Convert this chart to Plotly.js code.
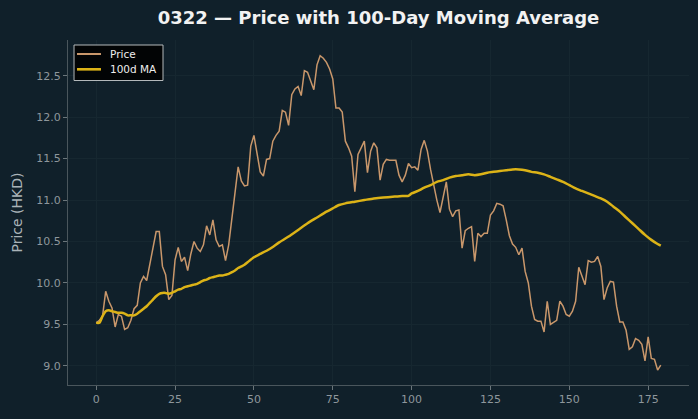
<!DOCTYPE html>
<html>
<head>
<meta charset="utf-8">
<script src="https://cdn.plot.ly/plotly-3.0.1.min.js"></script>
<style>
html,body{margin:0;padding:0;background:#10202a;}
#chart{width:698px;height:419px;}
</style>
</head>
<body>
<div id="chart"></div>
<script>
// Daily closing price (index = trading day)
const priceValues = [
  9.52, 9.55, 9.6, 9.9, 9.78, 9.7, 9.47, 9.62, 9.6, 9.44,
  9.46, 9.55, 9.69, 9.73, 10.0, 10.08, 10.03, 10.24, 10.44, 10.62,
  10.62, 10.2, 10.1, 9.8, 9.85, 10.28, 10.43, 10.26, 10.31, 10.15,
  10.35, 10.5, 10.42, 10.38, 10.46, 10.69, 10.58, 10.76, 10.52, 10.44,
  10.46, 10.27, 10.46, 10.76, 11.08, 11.4, 11.23, 11.17, 11.18, 11.65,
  11.78, 11.55, 11.34, 11.29, 11.49, 11.5, 11.71, 11.78, 11.83, 12.08,
  12.06, 11.9, 12.27, 12.34, 12.37, 12.26, 12.56, 12.54, 12.43, 12.33,
  12.63, 12.74, 12.71, 12.66, 12.58, 12.46, 12.11, 12.11, 12.06, 11.71,
  11.63, 11.53, 11.1, 11.55, 11.63, 11.71, 11.33, 11.59, 11.69, 11.63,
  11.24, 11.43, 11.49, 11.48, 11.48, 11.48, 11.3, 11.22, 11.3, 11.44,
  11.39, 11.4, 11.36, 11.61, 11.72, 11.59, 11.37, 11.16, 11.0, 10.85,
  11.06, 11.22, 10.89, 10.8, 10.87, 10.88, 10.42, 10.63, 10.66, 10.68,
  10.26, 10.6, 10.56, 10.6, 10.6, 10.82, 10.87, 10.96, 10.95, 10.93,
  10.76, 10.57, 10.47, 10.43, 10.34, 10.42, 10.14, 10.0, 9.72, 9.56,
  9.54, 9.54, 9.41, 9.78, 9.5, 9.52, 9.55, 9.78, 9.72, 9.62,
  9.6, 9.66, 9.78, 10.19, 10.09, 9.98, 10.27, 10.25, 10.26, 10.32,
  10.2, 9.8, 9.94, 10.02, 10.01, 9.72, 9.53, 9.53, 9.43, 9.2,
  9.23, 9.33, 9.31, 9.26, 9.06, 9.35, 9.09, 9.08, 8.95, 9.01
];
const priceDays = priceValues.map((_, i) => i);

// 100-day moving average at these days
const maDays = [
  0,1,2,3,4,5,6,7,8,9,10,11,12,13,14,15,16,17,18,19,20,21,22,23,24,25,26,27,28,29,
  30,31,32,33,34,35,36,37,38,39,40,41,42,43,44,45,46,47,48,50,52,55,58,61,64,67,70,
  73,75,77,79,82,85,88,91,94,97,99,100,102,104,106,108,110,112,114,116,118,120,122,
  124,126,128,130,132,134,136,138,140,142,144,146,148,150,152,154,156,158,160,162,
  164,166,168,170,172,174,176,178,179
];
const maValues = [
  9.52,9.52,9.6,9.66,9.67,9.66,9.65,9.64,9.64,9.63,9.61,9.61,9.61,9.63,9.66,9.69,9.72,9.76,9.8,9.84,
  9.87,9.88,9.88,9.87,9.88,9.9,9.92,9.93,9.95,9.96,9.97,9.98,9.99,10.01,10.03,10.04,10.06,10.07,10.08,10.09,
  10.09,10.1,10.11,10.13,10.15,10.18,10.2,10.22,10.25,10.31,10.35,10.41,10.49,10.56,10.64,10.72,10.79,
  10.86,10.9,10.94,10.96,10.98,11.0,11.02,11.03,11.04,11.05,11.05,11.08,11.11,11.15,11.18,11.22,11.24,11.27,
  11.29,11.3,11.31,11.3,11.31,11.33,11.34,11.35,11.36,11.37,11.37,11.36,11.34,11.33,11.31,11.28,11.25,
  11.22,11.18,11.14,11.11,11.08,11.05,11.02,10.98,10.92,10.86,10.79,10.72,10.65,10.58,10.52,10.47,10.45
];

const seriesNames = ['Price', '100d MA'];
const seriesColors = ['#c9976b', '#dcb317'];
const xTicks = [0, 25, 50, 75, 100, 125, 150, 175];
const yTicks = [9.0, 9.5, 10.0, 10.5, 11.0, 11.5, 12.0, 12.5];

const bg = '#10202a';
const traces = [
  {x: priceDays, y: priceValues, type: 'scatter', mode: 'lines', name: seriesNames[0],
   line: {color: seriesColors[0], width: 1.5}, showlegend: false},
  {x: maDays, y: maValues, type: 'scatter', mode: 'lines', name: seriesNames[1],
   line: {color: seriesColors[1], width: 2.5, shape: 'spline', smoothing: 0.6}, showlegend: false}
];

// legend box drawn in paper coordinates (top-left of the plot area)
const legendRows = [0.9594, 0.915];
const shapes = [
  {type: 'rect', xref: 'paper', yref: 'paper', x0: 0.0097, x1: 0.153, y0: 0.8826, y1: 0.9855,
   fillcolor: '#020405', line: {color: '#b4b9bb', width: 1}, layer: 'above'}
];
const annotations = [];
seriesNames.forEach((name, k) => {
  shapes.push({type: 'line', xref: 'paper', yref: 'paper', x0: 0.0145, x1: 0.0531,
               y0: legendRows[k], y1: legendRows[k],
               line: {color: seriesColors[k], width: k === 0 ? 2 : 2.6}, layer: 'above'});
  annotations.push({xref: 'paper', yref: 'paper', x: 0.064, y: legendRows[k],
                    xanchor: 'left', yanchor: 'middle', showarrow: false, text: name,
                    font: {family: 'DejaVu Sans, sans-serif', size: 10.5, color: '#eeeeee'}});
});

const layout = {
  width: 698, height: 419,
  paper_bgcolor: bg, plot_bgcolor: bg,
  margin: {l: 68, r: 9, t: 40, b: 34},
  font: {family: 'DejaVu Sans, sans-serif', color: '#9aa3a8', size: 11},
  title: {text: '0322 — Price with 100-Day Moving Average',
          font: {family: 'DejaVu Sans, sans-serif', size: 18, color: '#f2f2f2', weight: 'bold'},
          x: 0.5, xref: 'paper', xanchor: 'center', y: 0.957, yanchor: 'middle'},
  xaxis: {range: [-8.95, 187.95], tickvals: xTicks, ticktext: xTicks.map(String),
          showgrid: true, gridcolor: '#162730', gridwidth: 1, zeroline: false,
          showline: true, linecolor: '#4a565c', linewidth: 1,
          ticks: 'outside', ticklen: 4, tickcolor: '#6b767b',
          tickfont: {size: 11, color: '#8e979c'}},
  yaxis: {range: [8.77, 12.93], tickvals: yTicks, ticktext: yTicks.map(v => v.toFixed(1)),
          title: {text: 'Price (HKD)', font: {size: 14, color: '#aab3b8'}, standoff: 10},
          showgrid: true, gridcolor: '#162730', gridwidth: 1, zeroline: false,
          showline: true, linecolor: '#4a565c', linewidth: 1,
          ticks: 'outside', ticklen: 4, tickcolor: '#6b767b',
          tickfont: {size: 11, color: '#8e979c'}},
  shapes: shapes,
  annotations: annotations,
  showlegend: false
};

Plotly.newPlot('chart', traces, layout, {displayModeBar: false, staticPlot: true});
</script>
</body>
</html>
